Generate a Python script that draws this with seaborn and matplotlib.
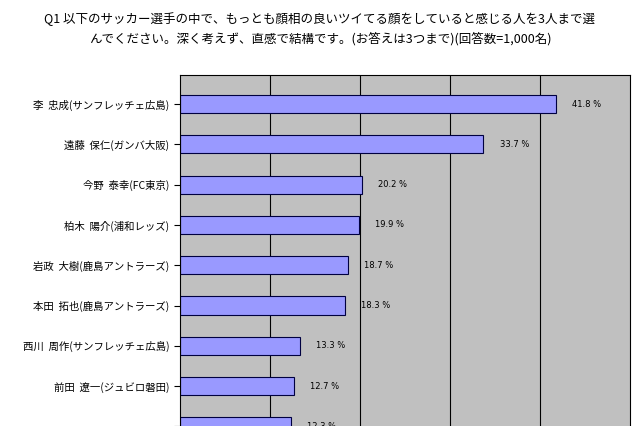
import matplotlib
matplotlib.use("Agg")
import matplotlib.pyplot as plt
import seaborn as sns
import pandas as pd

plt.rcParams['font.family'] = 'Noto Sans CJK JP'

players = ['李  忠成(サンフレッチェ広島)', '遠藤  保仁(ガンバ大阪)', '今野  泰幸(FC東京)',
           '柏木  陽介(浦和レッズ)', '岩政  大樹(鹿島アントラーズ)', '本田  拓也(鹿島アントラーズ)',
           '西川  周作(サンフレッチェ広島)', '前田  遼一(ジュビロ磐田)', '']
pct = [41.8, 33.7, 20.2, 19.9, 18.7, 18.3, 13.3, 12.7, 12.3]
df = pd.DataFrame({'player': players, 'pct': pct})

fig = plt.figure(figsize=(6.4, 4.26), dpi=100)
ax = fig.add_axes([180/640, -0.143, 450/640, 1.143 - 75/426])
ax.set_facecolor('#c0c0c0')

sns.barplot(data=df, x='pct', y='player', color='#9999ff', edgecolor='#000040',
            linewidth=0.8, width=0.45, saturation=1, ax=ax)

for i, v in enumerate(pct):
    ax.text(v + 1.8, i, f'{v} %', fontsize=6, va='center', ha='left',
            fontfamily='DejaVu Sans')

ax.set_xlim(0, 50)
ax.set_ylim(9.5, -0.72)
ax.set_xticks([10, 20, 30, 40])
ax.xaxis.grid(True, color='black', linewidth=0.8)
ax.set_axisbelow(True)
ax.tick_params(axis='x', length=0, labelbottom=False)
ax.tick_params(axis='y', labelsize=7.5, length=4)
ax.set_xlabel('')
ax.set_ylabel('')
for s in ax.spines.values():
    s.set_color('black')
    s.set_linewidth(0.8)

fig.text(0.5, 0.955, 'Q1 以下のサッカー選手の中で、もっとも顔相の良いツイてる顔をしていると感じる人を3人まで選',
         ha='center', va='center', fontsize=9)
fig.text(0.5, 0.91, 'んでください。深く考えず、直感で結構です。(お答えは3つまで)(回答数=1,000名)',
         ha='center', va='center', fontsize=9)

fig.savefig('out.png', dpi=100)
